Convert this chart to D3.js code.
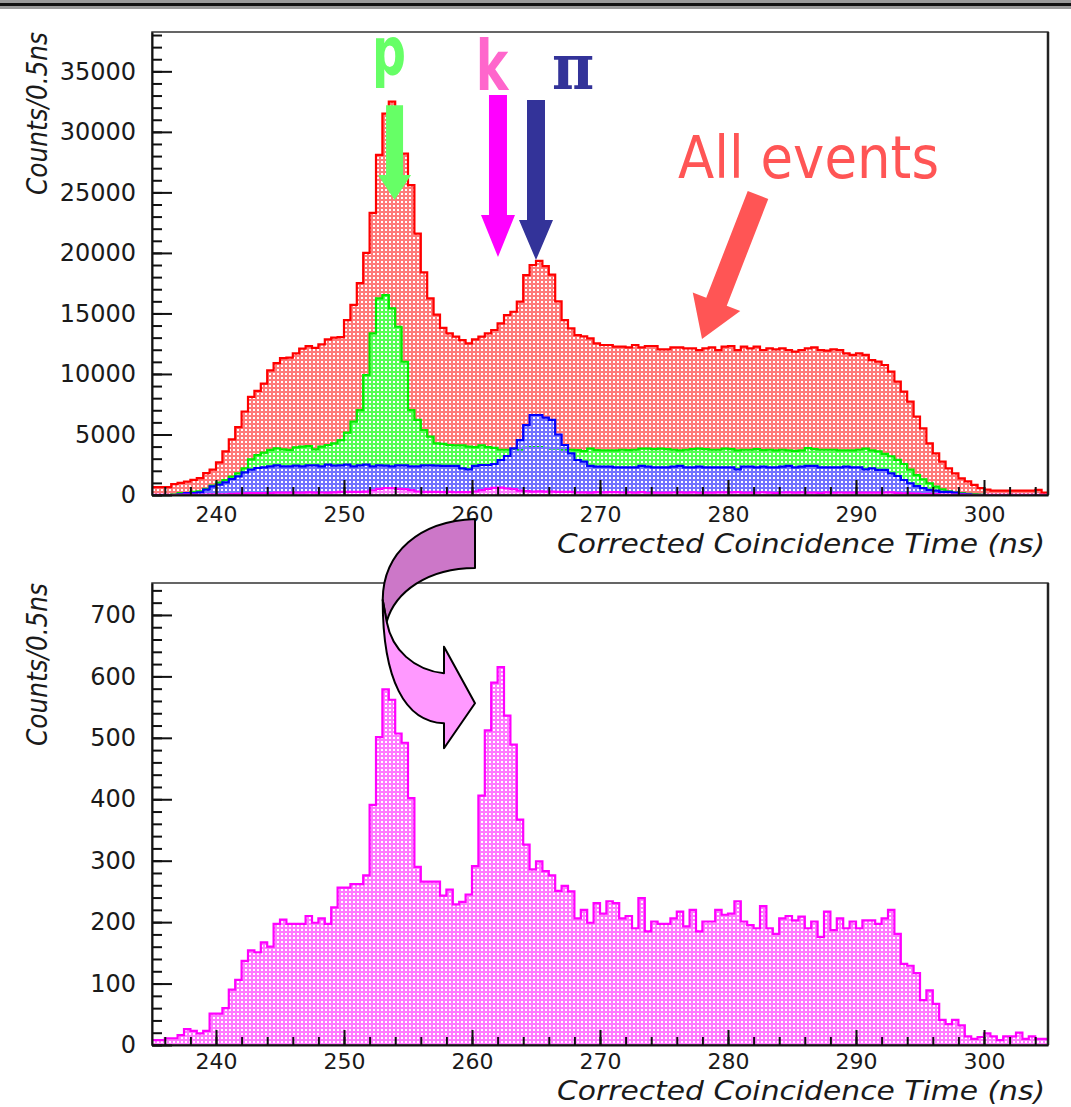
<!DOCTYPE html>
<html>
<head>
<meta charset="utf-8">
<script src="https://cdn.jsdelivr.net/npm/d3@7"></script>
<style>
  body { margin: 0; background: #fff; }
  svg { display: block; }
</style>
</head>
<body>
<div id="chart"></div>
<script>
// coincidence time histograms, 0.5 ns bins from 235 to 305 ns
const binStart = 235;
const binWidth = 0.5;

// all events (red)
const allEvents = [
  650, 650, 650, 900, 1000, 1100, 1250, 1400, 1800, 2100,
  2700, 3600, 4600, 5600, 6900, 8100, 8600, 9200, 10300, 10900,
  11300, 11350, 11700, 12100, 12300, 12150, 12450, 12850, 13000, 13050,
  14450, 15700, 17500, 20000, 23300, 28100, 31500, 32500, 31600, 28200,
  25600, 21600, 18400, 16250, 14900, 13800, 13350, 13080, 12800, 12530,
  12860, 13080, 13350, 13630, 14180, 14870, 15140, 15970, 18170, 19000,
  19350, 18900, 18200, 16000, 14450, 13760, 13210, 13100, 12940, 12530,
  12390, 12390, 12250, 12250, 12200, 12390, 12200, 12310, 12310, 12030,
  12030, 12200, 12200, 12110, 12110, 11970, 12110, 12200, 11970, 12250,
  12310, 11970, 12250, 12110, 12250, 11980, 12110, 12030, 12110, 11980,
  11840, 11980, 12110, 12200, 11980, 11920, 12030, 11980, 11700, 11570,
  11700, 11570, 11150, 11020, 10740, 10190, 9360, 8540, 7710, 6470,
  5510, 4270, 3440, 2750, 2200, 1790, 1380, 1130, 840, 570,
  450, 360, 360, 360, 360, 360, 360, 360, 420, 200
];

// proton selection (green)
const protonCut = [
  0, 0, 0, 50, 150, 150, 250, 300, 500, 780,
  1020, 1240, 1520, 1790, 2200, 2950, 3300, 3500, 3720, 3850,
  3770, 3720, 3940, 3990, 4050, 3770, 3990, 4130, 4270, 4540,
  5150, 6060, 7020, 9910, 13350, 16250, 16520, 15420, 13900, 11010,
  7020, 6200, 5370, 4820, 4270, 4220, 4130, 4100, 4100, 4000,
  3960, 4100, 3960, 3900, 3740, 3740, 3800, 3740, 3910, 3960,
  3960, 3900, 3830, 3830, 3740, 3740, 3700, 3630, 3830, 3700,
  3690, 3690, 3690, 3740, 3700, 3740, 3830, 3830, 3790, 3830,
  3790, 3740, 3690, 3740, 3790, 3830, 3790, 3740, 3740, 3830,
  3790, 3690, 3740, 3740, 3790, 3700, 3740, 3690, 3740, 3690,
  3640, 3690, 3880, 3790, 3740, 3740, 3740, 3690, 3690, 3690,
  3740, 3830, 3690, 3600, 3400, 3200, 2900, 2560, 2100, 1650,
  1300, 970, 690, 470, 300, 200, 150, 100, 80, 40,
  0, 0, 0, 0, 0, 0, 0, 0, 0, 0
];

// pion selection (blue)
const pionCut = [
  0, 0, 0, 0, 50, 165, 165, 220, 440, 720,
  860, 1050, 1320, 1540, 1870, 2090, 2230, 2290, 2370, 2450,
  2370, 2370, 2420, 2370, 2450, 2450, 2370, 2510, 2420, 2450,
  2510, 2370, 2450, 2510, 2370, 2450, 2420, 2370, 2450, 2450,
  2370, 2370, 2450, 2450, 2420, 2400, 2400, 2400, 2200, 2120,
  2400, 2480, 2480, 2560, 2890, 3220, 3850, 4540, 5780, 6610,
  6610, 6400, 6200, 5000, 4130, 3440, 2890, 2750, 2400, 2340,
  2340, 2340, 2290, 2290, 2290, 2290, 2400, 2340, 2290, 2290,
  2290, 2340, 2400, 2290, 2290, 2340, 2290, 2290, 2290, 2290,
  2290, 2120, 2340, 2340, 2290, 2340, 2290, 2290, 2340, 2400,
  2290, 2340, 2400, 2400, 2290, 2290, 2290, 2290, 2340, 2290,
  2290, 2120, 2200, 2070, 2070, 1790, 1570, 1240, 970, 740,
  570, 420, 360, 250, 250, 190, 100, 50, 0, 0,
  0, 0, 0, 0, 0, 0, 0, 0, 0, 0
];

// kaon selection (magenta), also the lower panel
const kaonCut = [
  8, 8, 11, 11, 16, 26, 23, 19, 23, 51,
  51, 60, 90, 106, 137, 154, 151, 167, 160, 197,
  204, 197, 197, 197, 210, 199, 206, 197, 224, 256,
  256, 262, 262, 276, 391, 501, 579, 562, 507, 492,
  402, 290, 266, 266, 266, 243, 253, 229, 233, 245,
  291, 406, 512, 590, 615, 536, 489, 367, 326, 286,
  299, 283, 276, 251, 259, 250, 206, 220, 199, 231,
  214, 234, 231, 206, 210, 190, 239, 185, 201, 197,
  197, 206, 217, 193, 220, 185, 201, 201, 220, 212,
  214, 234, 201, 195, 190, 226, 190, 181, 206, 210,
  203, 209, 190, 201, 176, 217, 187, 206, 190, 201,
  190, 203, 203, 197, 206, 220, 181, 132, 129, 117,
  73, 89, 67, 41, 34, 41, 32, 14, 10, 13,
  19, 14, 8, 14, 14, 20, 10, 14, 10, 10
];

const xTicks = [240, 250, 260, 270, 280, 290, 300];
const topYTicks = [0, 5000, 10000, 15000, 20000, 25000, 30000, 35000];
const botYTicks = [0, 100, 200, 300, 400, 500, 600, 700];

const W = 1071, H = 1107;
const svg = d3.select('#chart').append('svg')
  .attr('width', W).attr('height', H)
  .attr('viewBox', `0 0 ${W} ${H}`);

// mesh fill: 4px tile, 2x2 hole left transparent so stacked fills cover each other
const defs = svg.append('defs');
const patColors = { red: '#ff7a7a', green: '#55ff55', blue: '#7272ff', magenta: '#ff7aff' };
Object.entries(patColors).forEach(([k, c]) => {
  const p = defs.append('pattern').attr('id', `pat-${k}`)
    .attr('width', 4).attr('height', 4).attr('patternUnits', 'userSpaceOnUse');
  p.append('rect').attr('width', 4).attr('height', 1).attr('fill', c);
  p.append('rect').attr('y', 3).attr('width', 4).attr('height', 1).attr('fill', c);
  p.append('rect').attr('y', 1).attr('width', 1).attr('height', 2).attr('fill', c);
  p.append('rect').attr('x', 3).attr('y', 1).attr('width', 1).attr('height', 2).attr('fill', c);
});

// window bar at the very top
svg.append('rect').attr('x', 0).attr('y', 0).attr('width', W).attr('height', 9).attr('fill', '#9a9a9a');
svg.append('rect').attr('x', 0).attr('y', 3).attr('width', W).attr('height', 3).attr('fill', '#111');

const panels = [
  { top: 32, bottom: 495, ymax: 38250, yTicks: topYTicks, minor: 1000, labelPad: 11, titleGap: 58,
    series: [
      { v: allEvents, pat: 'red', stroke: '#ff0000' },
      { v: protonCut, pat: 'green', stroke: '#00ee00' },
      { v: pionCut, pat: 'blue', stroke: '#0000ff' },
      { v: kaonCut, pat: 'magenta', stroke: '#ff00ff' },
    ] },
  { top: 583, bottom: 1045, ymax: 752, yTicks: botYTicks, minor: 20, labelPad: 8, titleGap: 55,
    series: [ { v: kaonCut, pat: 'magenta', stroke: '#ff00ff' } ] },
];

const L = 152, R = 1048;
const x = d3.scaleLinear().domain([binStart, binStart + binWidth * allEvents.length]).range([L, R]);
const scales = [];

panels.forEach(p => {
  const y = d3.scaleLinear().domain([0, p.ymax]).range([p.bottom, p.top]);
  scales.push(y);
  const g = svg.append('g');

  const toPts = vals => {
    const pts = vals.map((v, i) => ({ t: binStart + i * binWidth, v }));
    pts.push({ t: binStart + vals.length * binWidth, v: vals[vals.length - 1] });
    return pts;
  };
  const area = d3.area().curve(d3.curveStepAfter)
    .x(d => x(d.t)).y0(y(0)).y1(d => y(d.v));
  const line = d3.line().curve(d3.curveStepAfter)
    .x(d => x(d.t)).y(d => y(d.v));

  p.series.forEach(s => {
    const pts = toPts(s.v);
    g.append('path').attr('d', area(pts)).attr('fill', `url(#pat-${s.pat})`)
      .attr('shape-rendering', 'crispEdges');
    g.append('path').attr('d', line(pts)).attr('fill', 'none')
      .attr('stroke', s.stroke).attr('stroke-width', 2.2);
  });

  // frame
  svg.append('rect').attr('x', L).attr('y', p.top).attr('width', R - L).attr('height', p.bottom - p.top)
    .attr('fill', 'none').attr('stroke', '#333').attr('stroke-width', 1.5);
  svg.append('line').attr('x1', R).attr('x2', R).attr('y1', p.top).attr('y2', p.bottom)
    .attr('stroke', '#222').attr('stroke-width', 2.5);

  // y axis: minor then major
  const yMinor = d3.range(0, p.ymax, p.minor);
  svg.append('g').attr('transform', `translate(${L},0)`)
    .call(d3.axisLeft(y).tickValues(yMinor).tickSize(-10).tickFormat(''))
    .call(a => a.select('.domain').remove())
    .selectAll('line').attr('stroke', '#111').attr('stroke-width', 2);
  const ya = svg.append('g').attr('transform', `translate(${L},0)`)
    .call(d3.axisLeft(y).tickValues(p.yTicks).tickFormat(d3.format('d'))
      .tickSize(-20).tickPadding(16).tickSizeOuter(0));
  ya.select('.domain').attr('stroke', '#111').attr('stroke-width', 2);
  ya.selectAll('line').attr('stroke', '#111').attr('stroke-width', 2);
  ya.selectAll('text').attr('font-family', 'DejaVu Sans').attr('font-size', 24).attr('fill', '#1a1a1a');

  // x axis
  const xMinor = d3.range(236, 305, 2);
  svg.append('g').attr('transform', `translate(0,${p.bottom})`)
    .call(d3.axisBottom(x).tickValues(xMinor).tickSize(-8).tickFormat(''))
    .call(a => a.select('.domain').remove())
    .selectAll('line').attr('stroke', '#111').attr('stroke-width', 2);
  const xa = svg.append('g').attr('transform', `translate(0,${p.bottom})`)
    .call(d3.axisBottom(x).tickValues(xTicks).tickFormat(d3.format('d'))
      .tickSize(-15).tickPadding(p.labelPad).tickSizeOuter(0));
  xa.select('.domain').attr('stroke', '#111').attr('stroke-width', 2);
  xa.selectAll('line').attr('stroke', '#111').attr('stroke-width', 2);
  xa.selectAll('text').attr('font-family', 'DejaVu Sans').attr('font-size', 22).attr('fill', '#1a1a1a');

  // axis titles
  svg.append('text')
    .attr('transform', `translate(47,${p.top}) rotate(-90)`)
    .attr('text-anchor', 'end')
    .attr('font-family', 'DejaVu Sans').attr('font-style', 'oblique').attr('font-size', 28)
    .attr('fill', '#1a1a1a')
    .attr('textLength', 163).attr('lengthAdjust', 'spacingAndGlyphs')
    .text('Counts/0.5ns');
  svg.append('text')
    .attr('x', 557).attr('y', p.bottom + p.titleGap)
    .attr('font-family', 'DejaVu Sans').attr('font-style', 'oblique').attr('font-size', 27)
    .attr('fill', '#1a1a1a')
    .attr('textLength', 488).attr('lengthAdjust', 'spacingAndGlyphs')
    .text('Corrected Coincidence Time (ns)');
});

// annotations
function arrowPts(x0, y0, x1, y1, sw, hw, hl) {
  const dx = x1 - x0, dy = y1 - y0, len = Math.hypot(dx, dy);
  const ux = dx / len, uy = dy / len, nx = -uy, ny = ux;
  const bx = x1 - ux * hl, by = y1 - uy * hl;
  return [
    [x0 + nx * sw / 2, y0 + ny * sw / 2], [bx + nx * sw / 2, by + ny * sw / 2],
    [bx + nx * hw / 2, by + ny * hw / 2], [x1, y1],
    [bx - nx * hw / 2, by - ny * hw / 2], [bx - nx * sw / 2, by - ny * sw / 2],
    [x0 - nx * sw / 2, y0 - ny * sw / 2],
  ];
}
const yTop = scales[0];
const marks = [
  { t: 253.95, from: 32200, to: 24370, head: 25, sw: 17, hw: 33, color: '#66ff66' },
  { t: 262.03, from: 33040, to: 19660, head: 42, sw: 18, hw: 34, color: '#ff00ff' },
  { t: 265.0, from: 32630, to: 19410, head: 40, sw: 18, hw: 34, color: '#333399' },
];
marks.forEach(m => {
  const px = x(m.t);
  svg.append('polygon')
    .attr('points', arrowPts(px, yTop(m.from), px, yTop(m.to), m.sw, m.hw, m.head).join(' '))
    .attr('fill', m.color);
});
svg.append('polygon')
  .attr('points', arrowPts(758, 195, 702, 339, 22, 51, 40).join(' '))
  .attr('fill', '#ff5555');

svg.append('text').attr('transform', 'translate(389,74) scale(0.72,1)')
  .attr('text-anchor', 'middle').attr('font-family', 'DejaVu Sans').attr('font-weight', 'bold')
  .attr('font-size', 66).attr('fill', '#66ff66').text('p');
svg.append('text').attr('transform', 'translate(492,90) scale(0.7,1)')
  .attr('text-anchor', 'middle').attr('font-family', 'DejaVu Sans').attr('font-weight', 'bold')
  .attr('font-size', 70).attr('fill', '#ff66cc').text('k');
svg.append('text').attr('transform', 'translate(573,89) scale(0.9,1)')
  .attr('text-anchor', 'middle').attr('font-family', 'DejaVu Serif').attr('font-weight', 'bold')
  .attr('font-size', 64).attr('fill', '#333399').text('π');
svg.append('text').attr('x', 678).attr('y', 178)
  .attr('font-family', 'DejaVu Sans').attr('font-size', 58).attr('fill', '#ff5555')
  .attr('textLength', 261).attr('lengthAdjust', 'spacingAndGlyphs')
  .text('All events');

// curved arrow between the panels
const curl = svg.append('g').attr('stroke', '#000').attr('stroke-width', 2).attr('stroke-linejoin', 'round');
curl.append('path')
  .attr('d', 'M475,519 C420,521 383,552 382.7,600 L386.7,621.7 C395,592 428,568 475,568 Z')
  .attr('fill', '#cc77c8');
curl.append('path')
  .attr('d', 'M382.7,600 C382.7,680 405,722 444,723.3 L444,748.3 L475,703.3 L444,646.7 L444,673.3 C414,670 392,650 386.7,621.7 Z')
  .attr('fill', '#ff99ff');
</script>
</body>
</html>
